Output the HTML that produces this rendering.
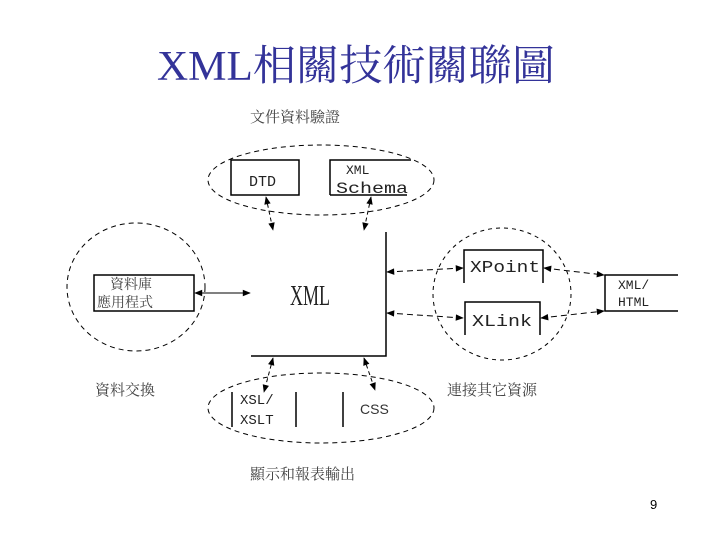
<!DOCTYPE html>
<html><head><meta charset="utf-8"><style>
html,body{margin:0;padding:0;background:#fff;}
svg{display:block;}
.cjk{font-family:"Liberation Serif","Noto Serif CJK SC","Noto Sans CJK TC",serif;fill:#444;}
.lat{font-family:"Liberation Mono",monospace;fill:#222;}
</style></head><body>
<svg width="720" height="540" viewBox="0 0 720 540" xmlns="http://www.w3.org/2000/svg">
<defs>
<marker id="a" viewBox="0 0 10 10" refX="9" refY="5" markerWidth="10" markerHeight="8" markerUnits="userSpaceOnUse" orient="auto-start-reverse"><path d="M0,1 L10,5 L0,9 z" fill="#000"/></marker>
</defs>
<text x="157" y="80" font-size="42" fill="#333399" font-family="Liberation Serif,'Noto Serif CJK TC','Noto Serif CJK SC',serif" textLength="398" lengthAdjust="spacingAndGlyphs">XML相關技術關聯圖</text>
<text x="250" y="122" font-size="15" class="cjk">文件資料驗證</text>
<text x="95" y="395" font-size="15" class="cjk">資料交換</text>
<text x="447" y="395" font-size="15" class="cjk">連接其它資源</text>
<text x="250" y="479" font-size="15" class="cjk">顯示和報表輸出</text>
<text x="650" y="509" font-size="13" font-family="Liberation Sans,sans-serif">9</text>

<g fill="none" stroke="#000" stroke-width="1">
<ellipse cx="321" cy="180" rx="113" ry="35" stroke-dasharray="5,4"/>
<ellipse cx="136" cy="287" rx="69" ry="64" stroke-dasharray="5,4"/>
<ellipse cx="502" cy="294" rx="69" ry="66" stroke-dasharray="4,4"/>
<ellipse cx="321" cy="408" rx="113" ry="35" stroke-dasharray="5,4"/>
<rect x="231" y="160" width="68" height="35" stroke-width="1.5"/>
<path d="M330,195 V160 H411 M330,195 H407" stroke-width="1.5"/>
<path d="M386,232 V356 H251" stroke-width="1.5"/>
<rect x="94" y="275" width="100" height="36" stroke-width="1.5"/>
<path d="M464,283 V250 H543 V283" stroke-width="1.5"/>
<path d="M465,335 V302 H540 V335" stroke-width="1.5"/>
<path d="M678,275 H605 V311 H678" stroke-width="1.5"/>
<path d="M232,392 V427 M296,392 V427 M343,392 V427" stroke-width="1.5"/>
</g>
<g fill="none" stroke="#000" stroke-width="1" marker-start="url(#a)" marker-end="url(#a)">
<line x1="266" y1="197" x2="273" y2="230" stroke-dasharray="4,3"/>
<line x1="371" y1="197" x2="364" y2="230" stroke-dasharray="4,3"/>
<line x1="195" y1="293" x2="250" y2="293"/>
<line x1="387" y1="272" x2="463" y2="268" stroke-dasharray="6,4"/>
<line x1="387" y1="313" x2="463" y2="318" stroke-dasharray="6,4"/>
<line x1="544" y1="268" x2="604" y2="275" stroke-dasharray="6,4"/>
<line x1="541" y1="318" x2="604" y2="311" stroke-dasharray="6,4"/>
<line x1="273" y1="358" x2="264" y2="392" stroke-dasharray="4,3"/>
<line x1="364" y1="358" x2="375" y2="390" stroke-dasharray="4,3"/>
</g>

<text x="249" y="186" font-size="15" class="lat">DTD</text>
<text x="346" y="174" font-size="13" class="lat">XML</text>
<text x="336" y="193" font-size="16" class="lat" textLength="72" lengthAdjust="spacingAndGlyphs">Schema</text>
<text x="290" y="305" font-size="28" font-family="Liberation Serif,serif" fill="#222" textLength="40" lengthAdjust="spacingAndGlyphs">XML</text>
<text x="110" y="289" font-size="14" class="cjk">資料庫</text>
<text x="97" y="307" font-size="14" class="cjk">應用程式</text>
<text x="470" y="272" font-size="17" class="lat" textLength="70" lengthAdjust="spacingAndGlyphs">XPoint</text>
<text x="472" y="326" font-size="17" class="lat" textLength="60" lengthAdjust="spacingAndGlyphs">XLink</text>
<text x="618" y="289" font-size="13" class="lat">XML/</text>
<text x="618" y="306" font-size="13" class="lat">HTML</text>
<text x="240" y="404" font-size="14" class="lat">XSL/</text>
<text x="240" y="424" font-size="14" class="lat">XSLT</text>
<text x="360" y="414" font-size="14" font-family="Liberation Sans,sans-serif" fill="#333">CSS</text>
</svg>
</body></html>
